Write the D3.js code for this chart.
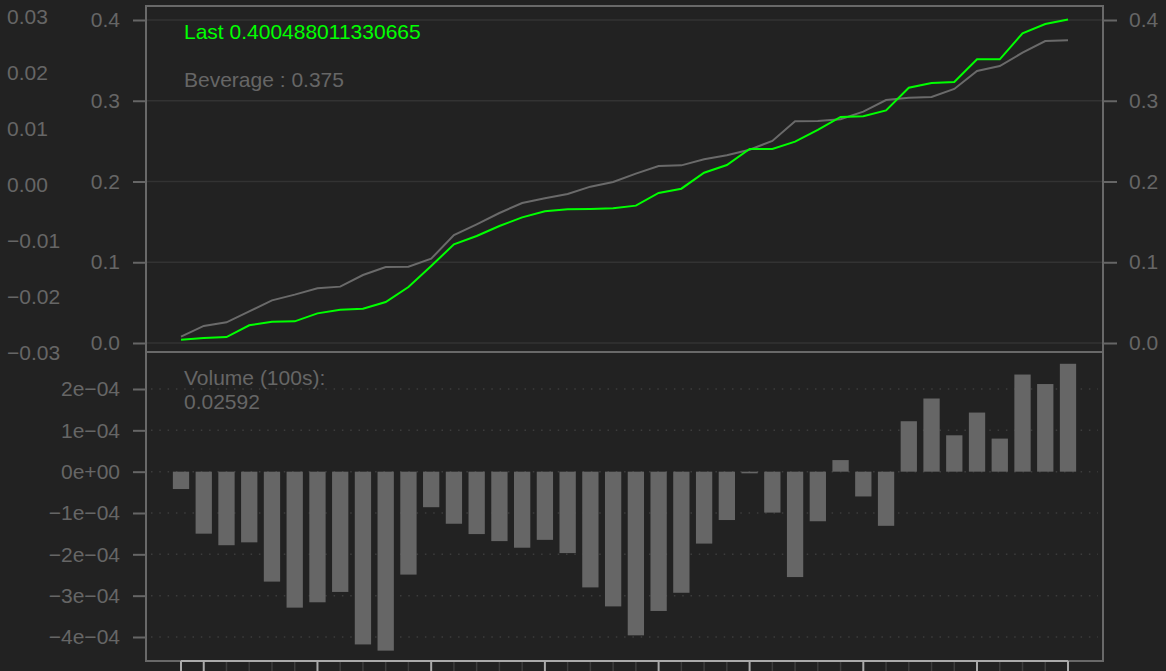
<!DOCTYPE html>
<html lang="en">
<head>
<meta charset="UTF-8">
<title>Last vs Beverage</title>
<style>
  body { margin: 0; background: #222222; }
  svg { display: block; }
  text { font-family: "Liberation Sans", Arial, sans-serif; font-size: 21px; fill: #666666; }
</style>
</head>
<body>
<svg width="1166" height="671"></svg>
<script src="https://d3js.org/d3.v7.min.js"></script>
<script>
// --- data (40 periods) ---
const lastSeries = [0.0041, 0.0062, 0.0074, 0.0219, 0.0264, 0.0268, 0.0367, 0.0413, 0.0425, 0.0508,
                    0.0694, 0.0954, 0.1222, 0.1325, 0.1449, 0.1556, 0.1631, 0.1655, 0.1660, 0.1668,
                    0.1701, 0.1858, 0.1911, 0.2109, 0.2204, 0.2402, 0.2402, 0.2493, 0.2638, 0.2799,
                    0.2807, 0.2881, 0.3162, 0.3220, 0.3232, 0.3513, 0.3513, 0.3835, 0.3950, 0.400488011330665];
const bevSeries = [0.0078, 0.0211, 0.0256, 0.0392, 0.0528, 0.0599, 0.0677, 0.0698, 0.0842, 0.0941,
                   0.0945, 0.1044, 0.1337, 0.1470, 0.1610, 0.1734, 0.1792, 0.1845, 0.1936, 0.1994,
                   0.2097, 0.2192, 0.2200, 0.2275, 0.2324, 0.2394, 0.2502, 0.2745, 0.2749, 0.2770,
                   0.2865, 0.3009, 0.3038, 0.3046, 0.3146, 0.3368, 0.3430, 0.3595, 0.3740, 0.3750];
const volume = [-0.42e-4, -1.50e-4, -1.78e-4, -1.71e-4, -2.66e-4, -3.29e-4, -3.16e-4, -2.91e-4, -4.18e-4, -4.33e-4,
                -2.49e-4, -0.86e-4, -1.26e-4, -1.51e-4, -1.68e-4, -1.84e-4, -1.65e-4, -1.97e-4, -2.80e-4, -3.26e-4,
                -3.96e-4, -3.37e-4, -2.93e-4, -1.74e-4, -1.17e-4, -0.04e-4, -0.99e-4, -2.55e-4, -1.20e-4, 0.28e-4,
                -0.60e-4, -1.31e-4, 1.22e-4, 1.77e-4, 0.88e-4, 1.43e-4, 0.80e-4, 2.35e-4, 2.12e-4, 2.61e-4];
const priceTicks = [0, 0.1, 0.2, 0.3, 0.4];
const volTicks = [2e-4, 1e-4, 0, -1e-4, -2e-4, -3e-4, -4e-4];
const volTickLabels = ["2e\u221204", "1e\u221204", "0e+00", "\u22121e\u221204", "\u22122e\u221204", "\u22123e\u221204", "\u22124e\u221204"];
const outerTicks = [0.03, 0.02, 0.01, 0, -0.01, -0.02, -0.03];
const majorX = [0, 1, 6, 11, 16, 21, 25, 30, 35, 39];
const lastLabel = "Last 0.400488011330665";
const bevLabel = "Beverage : 0.375";
const volLabel = ["Volume (100s):", "0.02592"];

// --- layout ---
const L = 146, R = 1103, T = 6, M = 352, B = 661;
const svg = d3.select("svg");
const n = lastSeries.length;

const x = d3.scaleLinear().domain([0, n - 1]).range([181, 1068]);
const yP = d3.scaleLinear().domain([0, 0.4]).range([343, 20]);
const yV = d3.scaleLinear().domain([-4e-4, 2e-4]).range([637, 389]);
const yO = d3.scaleLinear().domain([-0.03, 0.03]).range([353, 17]);

svg.append("rect").attr("width", 1166).attr("height", 671).attr("fill", "#222222");

// outer stray axis on the far left
svg.append("g").selectAll("text").data(outerTicks).join("text")
  .attr("x", 7).attr("y", d => yO(d)).attr("dy", "0.35em")
  .text(d => d3.format(".2f")(d));

// price panel grid
svg.append("g").selectAll("line").data(priceTicks).join("line")
  .attr("x1", L).attr("x2", R).attr("y1", d => yP(d)).attr("y2", d => yP(d))
  .attr("stroke", "#333333").attr("stroke-width", 1.5);

// volume panel dotted grid
svg.append("g").selectAll("line").data(volTicks).join("line")
  .attr("x1", L + 5).attr("x2", R - 5).attr("y1", d => yV(d)).attr("y2", d => yV(d))
  .attr("stroke", "#3c3c3c").attr("stroke-width", 1.5).attr("stroke-dasharray", "1.5 6.8");

// lines
const line = d3.line().x((d, i) => x(i)).y(d => yP(d));
svg.append("path").datum(bevSeries).attr("d", line)
  .attr("fill", "none").attr("stroke", "#6a6a6a").attr("stroke-width", 2);
svg.append("path").datum(lastSeries).attr("d", line)
  .attr("fill", "none").attr("stroke", "#00ff00").attr("stroke-width", 2);

// volume bars
const bw = 16.3;
svg.append("g").selectAll("rect").data(volume).join("rect")
  .attr("x", (d, i) => x(i) - bw / 2)
  .attr("width", bw)
  .attr("y", d => Math.min(yV(d), yV(0)))
  .attr("height", d => Math.max(1.5, Math.abs(yV(d) - yV(0))))
  .attr("fill", "#666666");

// panel borders
svg.append("rect").attr("x", L).attr("y", T).attr("width", R - L).attr("height", M - T)
  .attr("fill", "none").attr("stroke", "#696969").attr("stroke-width", 2);
svg.append("rect").attr("x", L).attr("y", M).attr("width", R - L).attr("height", B - M)
  .attr("fill", "none").attr("stroke", "#696969").attr("stroke-width", 2);

// axes
function styleAxis(g) {
  g.select(".domain").remove();
  g.selectAll(".tick line").attr("stroke", "#666666").attr("stroke-width", 2);
  g.selectAll(".tick text").attr("fill", null).style("font-size", "21px")
    .style("font-family", "'Liberation Sans', Arial, sans-serif");
}
svg.append("g").attr("transform", `translate(${L},0)`)
  .call(d3.axisLeft(yP).tickValues(priceTicks).tickFormat(d3.format(".1f")).tickSize(13).tickPadding(13))
  .call(styleAxis);
svg.append("g").attr("transform", `translate(${R},0)`)
  .call(d3.axisRight(yP).tickValues(priceTicks).tickFormat(d3.format(".1f")).tickSize(14).tickPadding(12))
  .call(styleAxis);
svg.append("g").attr("transform", `translate(${L},0)`)
  .call(d3.axisLeft(yV).tickValues(volTicks).tickFormat((d, i) => volTickLabels[i]).tickSize(13).tickPadding(13))
  .call(styleAxis);

// bottom time axis (labels fall below the frame)
const xa = svg.append("g");
xa.append("line").attr("x1", x(0)).attr("x2", x(n - 1)).attr("y1", B).attr("y2", B)
  .attr("stroke", "#aaaaaa").attr("stroke-width", 2);
xa.selectAll("line.minor").data(d3.range(n).filter(i => !majorX.includes(i))).join("line")
  .attr("class", "minor")
  .attr("x1", d => x(d)).attr("x2", d => x(d)).attr("y1", B + 1).attr("y2", 671)
  .attr("stroke", "#3d3d3d").attr("stroke-width", 1.5);
xa.selectAll("line.major").data(majorX).join("line")
  .attr("class", "major")
  .attr("x1", d => x(d)).attr("x2", d => x(d)).attr("y1", B).attr("y2", 671)
  .attr("stroke", "#aaaaaa").attr("stroke-width", 2);

// legends
svg.append("text").attr("x", 184).attr("y", 39).style("fill", "#00ff00").text(lastLabel);
svg.append("text").attr("x", 184).attr("y", 87).text(bevLabel);
svg.append("text").attr("x", 184).attr("y", 385).text(volLabel[0]);
svg.append("text").attr("x", 184).attr("y", 409).text(volLabel[1]);
</script>
</body>
</html>
